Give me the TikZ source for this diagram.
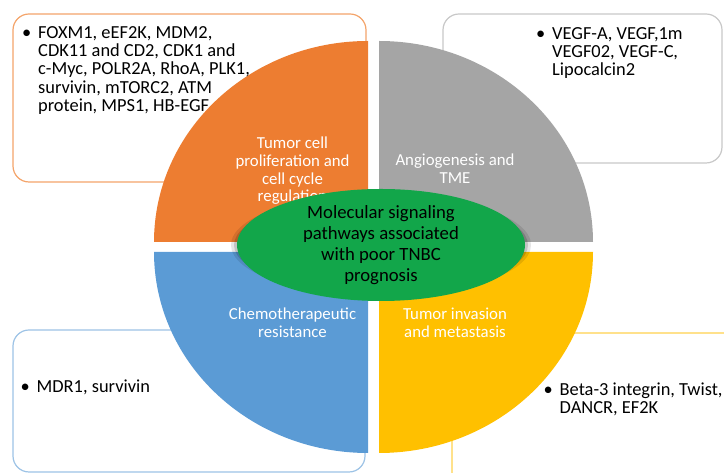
\documentclass[tikz,border=0pt]{standalone}
\usepackage{fontspec}
\setmainfont{Carlito}
\usetikzlibrary{shapes.geometric}
\definecolor{qorange}{HTML}{ED7D31}
\definecolor{qgrey}{HTML}{A5A5A5}
\definecolor{qblue}{HTML}{5B9BD5}
\definecolor{qyellow}{HTML}{FFC000}
\definecolor{lorange}{HTML}{F4A46A}
\definecolor{lgrey}{HTML}{C8C8C8}
\definecolor{lblue}{HTML}{9DC3E6}
\definecolor{lyellow}{HTML}{FFD24D}
\definecolor{coregreen}{HTML}{12A64A}
\newcommand{\tightlines}{\lineskiplimit=-6pt\relax}
\newcommand{\bul}{\llap{\textbullet\hspace{7pt}}}
\tikzset{
  listbox/.style={fill=white, line width=1.2pt, rounded corners=16pt},
  listtext/.style={anchor=north west, inner sep=0pt, align=left,
    font=\fontsize{18.4}{18.3}\selectfont\tightlines},
  quadlabel/.style={text=white, align=center, inner sep=0pt,
    font=\fontsize{16.8}{17.7}\selectfont\tightlines},
}
\begin{document}
\begin{tikzpicture}[x=1pt,y=1pt]
				\useasboundingbox (0,0) rectangle (724,473);
				% boxes behind the circle
				\draw[listbox, draw=lorange] (13,459) rectangle (366,291);
				\draw[listbox, draw=lgrey] (443,459) rectangle (722,310);
				\draw[listbox, draw=lblue] (13,143) rectangle (365,1);
				\draw[listbox, draw=lyellow] (452,140) rectangle (750,-30);
				% four quarters
				\fill[qorange] (368,231) -- ++(-214,0) arc[start angle=180, end angle=90, x radius=214, y radius=201] -- cycle;
				\fill[qgrey] (379,231) -- ++(0,201) arc[start angle=90, end angle=0, x radius=214, y radius=201] -- cycle;
				\fill[qblue] (368,221) -- ++(-214,0) arc[start angle=180, end angle=270, x radius=214, y radius=201] -- cycle;
				\fill[qyellow] (379,221) -- ++(214,0) arc[start angle=0, end angle=-90, x radius=214, y radius=201] -- cycle;
				\node[quadlabel] (prolif) at (292.5,302) {Tumor cell\\proliferation and\\cell cycle\\regulation};
				\node[quadlabel] (angio) at (455,304) {Angiogenesis and\\TME};
				\node[quadlabel] (chemo) at (292.5,150.5) {Chemotherapeutic\\resistance};
				\node[quadlabel] (invasion) at (455,150.5) {Tumor invasion\\and metastasis};
				% soft shadow of the centre
				\fill[black, opacity=0.10] (381,228) ellipse[x radius=150, y radius=51];
				\fill[black, opacity=0.15] (381,228) ellipse[x radius=147, y radius=48];
				\node[ellipse, fill=coregreen, minimum width=288, minimum height=90, inner sep=0pt, align=center,
				      font=\fontsize{18.7}{21}\selectfont\tightlines] (core) at (381,228)
				      {Molecular signaling\\pathways associated\\with poor TNBC\\prognosis};
				% lists
				\node[listtext] (prolist) at (38,446.8) {\bul FOXM1, eEF2K, MDM2,\\
				  CDK11 and CD2, CDK1 and\\
				  c-Myc, POLR2A, RhoA, PLK1,\\
				  survivin, mTORC2, ATM\\
				  protein, MPS1, HB-EGF};
				\node[listtext] (angiolist) at (552,445.8) {\bul VEGF-A, VEGF,1m\\
				  VEGF02, VEGF-C,\\
				  Lipocalcin2};
				\node[listtext] (chemolist) at (36.5,93.5) {\bul MDR1, survivin};
				\node[listtext] (invlist) at (559.5,90.6) {\bul Beta-3 integrin, Twist,\\
				  DANCR, EF2K};
			\end{tikzpicture}
\end{document}
